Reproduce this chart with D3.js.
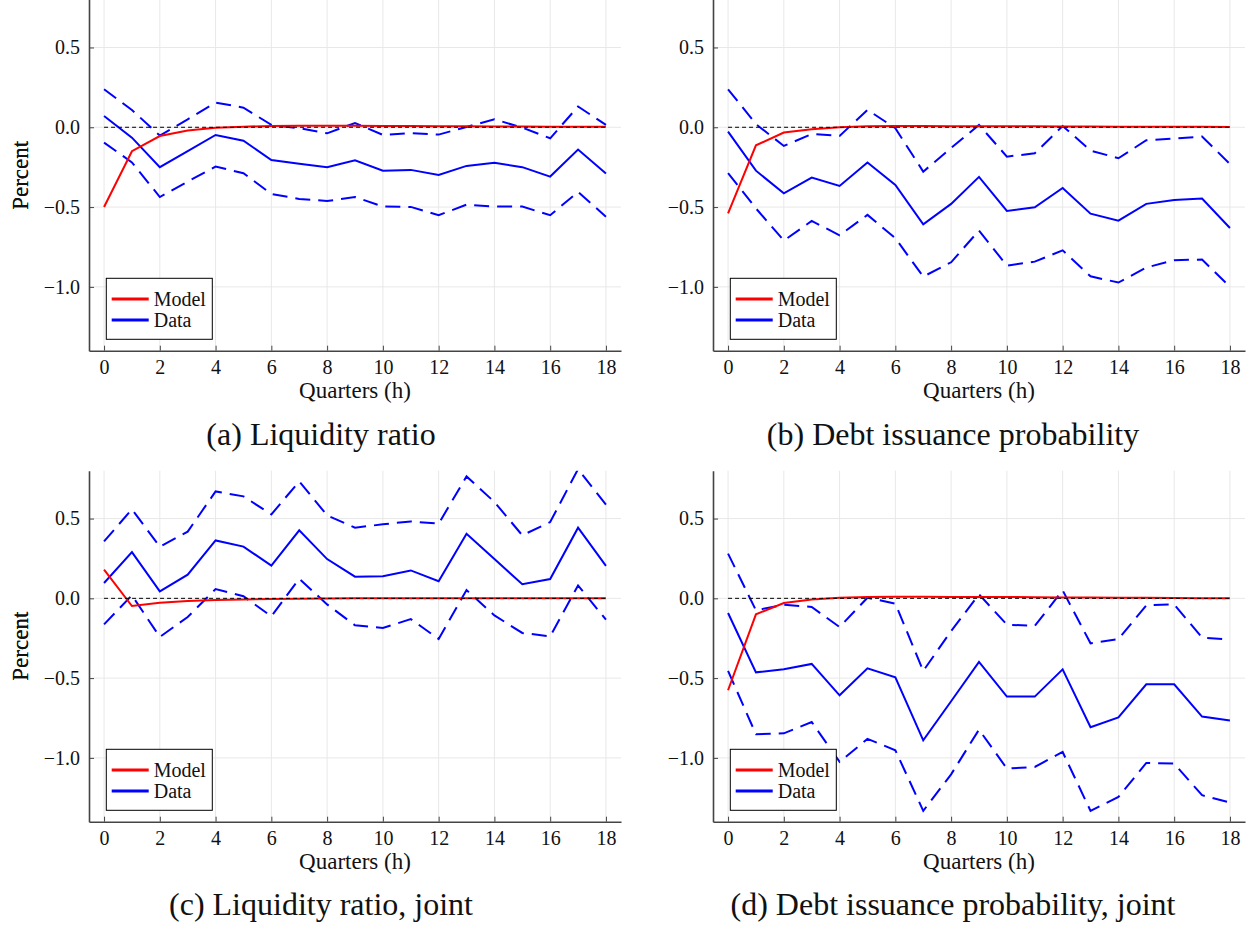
<!DOCTYPE html>
<html>
<head>
<meta charset="utf-8">
<script src="https://cdn.jsdelivr.net/npm/d3@7"></script>
<style>
    body { margin: 0; background: #fff; }
    svg { display: block; font-family: "Liberation Serif", "DejaVu Serif", serif; }
</style>
</head>
<body>
<svg id="vis" width="1255" height="926"></svg>
<script>
// horizons (quarters)
const horizons = [0, 1, 2, 3, 4, 5, 6, 7, 8, 9, 10, 11, 12, 13, 14, 15, 16, 17, 18];
const xTicks = [0, 2, 4, 6, 8, 10, 12, 14, 16, 18];
const yTicks = [0.5, 0.0, -0.5, -1.0];

// (a) Liquidity ratio
const liqModel = [-0.50, -0.15, -0.055, -0.02, -0.003, 0.004, 0.008, 0.009, 0.009, 0.009, 0.008, 0.008, 0.007, 0.006, 0.005, 0.005, 0.004, 0.003, 0.003];
const liqData  = [0.071, -0.065, -0.25, -0.15, -0.048, -0.084, -0.205, -0.228, -0.25, -0.207, -0.272, -0.267, -0.299, -0.242, -0.223, -0.25, -0.309, -0.14, -0.29];
const liqUpper = [0.238, 0.108, -0.052, 0.05, 0.155, 0.123, 0.015, -0.006, -0.038, 0.027, -0.048, -0.036, -0.046, 0.002, 0.05, -0.002, -0.069, 0.13, 0.015];
const liqLower = [-0.096, -0.22, -0.437, -0.34, -0.246, -0.288, -0.418, -0.449, -0.462, -0.437, -0.497, -0.499, -0.551, -0.485, -0.497, -0.497, -0.551, -0.405, -0.56];

// (b) Debt issuance probability
const debtModel = [-0.539, -0.113, -0.033, -0.013, 0.0, 0.006, 0.008, 0.008, 0.007, 0.007, 0.006, 0.006, 0.005, 0.005, 0.004, 0.004, 0.003, 0.003, 0.002];
const debtData  = [-0.027, -0.272, -0.414, -0.315, -0.368, -0.221, -0.361, -0.608, -0.48, -0.311, -0.524, -0.501, -0.38, -0.541, -0.585, -0.48, -0.455, -0.447, -0.631];
const debtUpper = [0.238, 0.02, -0.117, -0.042, -0.054, 0.109, -0.006, -0.278, -0.13, 0.015, -0.184, -0.163, 0.008, -0.146, -0.194, -0.081, -0.071, -0.058, -0.23];
const debtLower = [-0.288, -0.508, -0.71, -0.587, -0.677, -0.549, -0.695, -0.936, -0.846, -0.647, -0.867, -0.842, -0.771, -0.934, -0.973, -0.879, -0.833, -0.829, -1.0];

// (c) Liquidity ratio, joint
const liqJModel = [0.18, -0.048, -0.027, -0.017, -0.01, -0.008, -0.004, -0.002, -0.001, 0.0, 0.0, 0.0, 0.0, 0.0, 0.0, 0.0, 0.0, 0.0, 0.0];
const liqJData  = [0.096, 0.29, 0.044, 0.148, 0.363, 0.324, 0.205, 0.426, 0.246, 0.136, 0.138, 0.175, 0.107, 0.405, 0.246, 0.088, 0.121, 0.443, 0.203];
const liqJUpper = [0.357, 0.558, 0.324, 0.418, 0.67, 0.639, 0.526, 0.733, 0.52, 0.443, 0.464, 0.482, 0.468, 0.764, 0.604, 0.395, 0.478, 0.81, 0.587];
const liqJLower = [-0.163, 0.019, -0.242, -0.117, 0.058, 0.013, -0.113, 0.123, -0.038, -0.169, -0.186, -0.13, -0.255, 0.052, -0.107, -0.217, -0.238, 0.081, -0.134];

// (d) Debt issuance probability, joint
const debtJModel = [-0.576, -0.10, -0.029, -0.008, 0.004, 0.008, 0.01, 0.01, 0.009, 0.009, 0.008, 0.007, 0.006, 0.005, 0.004, 0.003, 0.002, 0.001, 0.001];
const debtJData  = [-0.092, -0.464, -0.445, -0.411, -0.608, -0.439, -0.495, -0.89, -0.645, -0.399, -0.616, -0.616, -0.445, -0.808, -0.746, -0.539, -0.539, -0.741, -0.766];
const debtJUpper = [0.28, -0.075, -0.04, -0.054, -0.18, 0.004, -0.033, -0.455, -0.205, 0.025, -0.165, -0.173, 0.05, -0.282, -0.255, -0.044, -0.038, -0.246, -0.259];
const debtJLower = [-0.455, -0.852, -0.846, -0.775, -1.025, -0.881, -0.952, -1.332, -1.103, -0.823, -1.067, -1.057, -0.963, -1.332, -1.245, -1.032, -1.036, -1.234, -1.28];

const captions = ["(a) Liquidity ratio", "(b) Debt issuance probability", "(c) Liquidity ratio, joint", "(d) Debt issuance probability, joint"];

// panel layout
let panels = [
    { model: liqModel, data: liqData, upper: liqUpper, lower: liqLower, left: 89, right: 621, top: -0.4, bottom: 350.7, capX: 321, capY: 445 },
    { model: debtModel, data: debtData, upper: debtUpper, lower: debtLower, left: 713, right: 1245, top: -0.4, bottom: 350.7, capX: 953, capY: 445 },
    { model: liqJModel, data: liqJData, upper: liqJUpper, lower: liqJLower, left: 89, right: 621, top: 470.7, bottom: 821.7, capX: 321, capY: 915 },
    { model: debtJModel, data: debtJData, upper: debtJUpper, lower: debtJLower, left: 713, right: 1245, top: 470.7, bottom: 821.7, capX: 953, capY: 915 }
];

const svg = d3.select("#vis");
const axisColor = "#444";
const gridColor = "#e8e8e8";
const fmt = d => d < 0 ? "\u2212" + Math.abs(d).toFixed(1) : d.toFixed(1);

panels.forEach((p, i) => {
    let x = d3.scaleLinear().domain([-0.54, 18.54]).range([p.left, p.right]);
    let y = d3.scaleLinear().domain([-1.4, 0.8]).range([p.bottom, p.top]);
    let g = svg.append("g");

    // clip
    g.append("clipPath").attr("id", "clip" + i)
        .append("rect")
        .attr("x", p.left).attr("y", Math.max(p.top, 0))
        .attr("width", p.right - p.left).attr("height", p.bottom - Math.max(p.top, 0));

    // grid
    g.append("g").selectAll("line").data(xTicks).enter().append("line")
        .attr("x1", d => x(d)).attr("x2", d => x(d))
        .attr("y1", p.top).attr("y2", p.bottom)
        .attr("stroke", gridColor).attr("stroke-width", 1);
    g.append("g").selectAll("line").data(yTicks).enter().append("line")
        .attr("x1", p.left).attr("x2", p.right)
        .attr("y1", d => y(d)).attr("y2", d => y(d))
        .attr("stroke", gridColor).attr("stroke-width", 1);

    let plot = g.append("g").attr("clip-path", `url(#clip${i})`);
    let line = d3.line().x((d, j) => x(horizons[j])).y(d => y(d));

    // confidence bands (dashed)
    [p.upper, p.lower].forEach(s => {
        plot.append("path").datum(s)
            .attr("d", line)
            .attr("fill", "none").attr("stroke", "#0000ff")
            .attr("stroke-width", 2).attr("stroke-dasharray", "15,8");
    });
    plot.append("path").datum(p.data)
        .attr("d", line)
        .attr("fill", "none").attr("stroke", "#0000ff").attr("stroke-width", 2);
    plot.append("path").datum(p.model)
        .attr("d", line)
        .attr("fill", "none").attr("stroke", "#ff0000").attr("stroke-width", 2);

    // zero line
    plot.append("line")
        .attr("x1", x(horizons[0])).attr("x2", x(horizons[horizons.length - 1]))
        .attr("y1", y(0)).attr("y2", y(0))
        .attr("stroke", "#000").attr("stroke-width", 1).attr("stroke-dasharray", "4,3");

    // axes
    let xAxis = g.append("g")
        .attr("transform", `translate(0,${p.bottom})`)
        .call(d3.axisBottom(x).tickValues(xTicks).tickSizeInner(-5).tickSizeOuter(0).tickPadding(9));
    let yAxis = g.append("g")
        .attr("transform", `translate(${p.left},0)`)
        .call(d3.axisLeft(y).tickValues(yTicks).tickFormat(fmt).tickSizeInner(-5).tickSizeOuter(0).tickPadding(9));
    [xAxis, yAxis].forEach(a => {
        a.select(".domain").attr("stroke", axisColor).attr("stroke-width", 1.6);
        a.selectAll(".tick line").attr("stroke", axisColor).attr("stroke-width", 1);
        a.selectAll(".tick text")
            .attr("font-family", "Liberation Serif").attr("font-size", 20).attr("fill", "#111");
    });

    // axis labels
    g.append("text")
        .attr("x", (p.left + p.right) / 2).attr("y", p.bottom + 47)
        .attr("text-anchor", "middle").attr("font-size", 23).attr("fill", "#111")
        .text("Quarters (h)");
    g.append("text")
        .attr("transform", `translate(28,${(Math.max(p.top, 0) + p.bottom) / 2}) rotate(-90)`)
        .attr("text-anchor", "middle").attr("font-size", 23).attr("fill", "#111")
        .text("Percent");

    // legend
    let lg = g.append("g").attr("transform", `translate(${p.left + 17.3},${p.bottom - 72.4})`);
    lg.append("rect").attr("width", 106).attr("height", 61)
        .attr("fill", "#fff").attr("stroke", "#000").attr("stroke-width", 1);
    [["Model", "#ff0000"], ["Data", "#0000ff"]].forEach((e, k) => {
        lg.append("line")
            .attr("x1", 5.4).attr("x2", 42.4)
            .attr("y1", 20.7 + k * 21).attr("y2", 20.7 + k * 21)
            .attr("stroke", e[1]).attr("stroke-width", 3);
        lg.append("text")
            .attr("x", 47.4).attr("y", 27.5 + k * 21)
            .attr("font-size", 20).attr("fill", "#111")
            .text(e[0]);
    });

    // caption
    g.append("text")
        .attr("x", p.capX).attr("y", p.capY)
        .attr("text-anchor", "middle").attr("font-size", 32).attr("fill", "#111")
        .text(captions[i]);
});
</script>
</body>
</html>
